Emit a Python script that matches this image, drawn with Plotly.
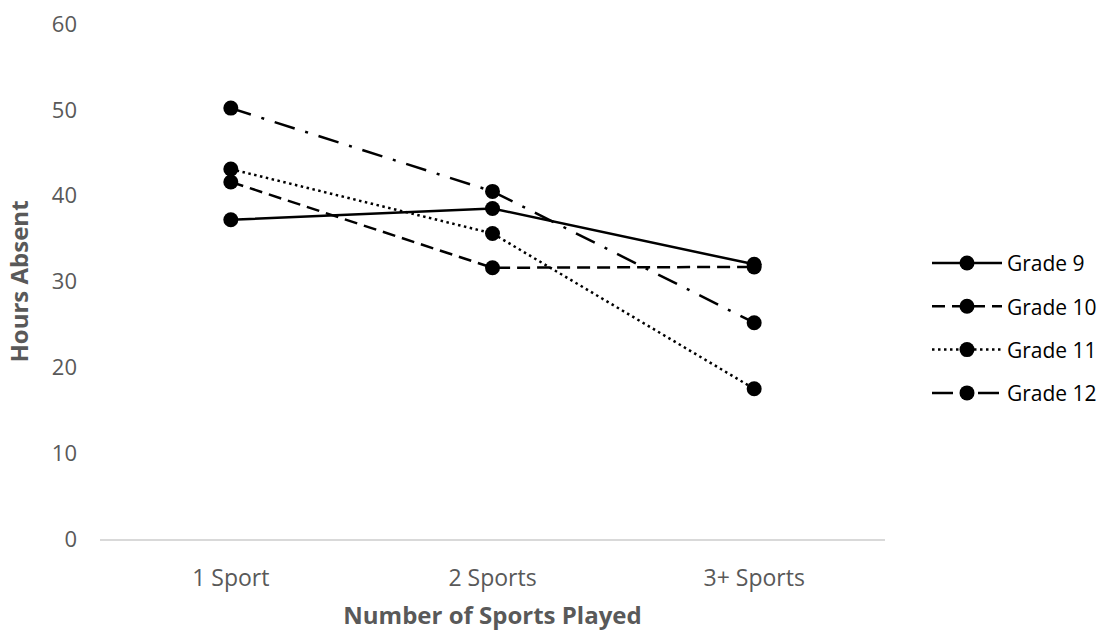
import plotly.graph_objects as go

# Hours absent by number of sports played, one line per grade
categories = ["1 Sport", "2 Sports", "3+ Sports"]
grade_9 = [37.2, 38.5, 32.0]
grade_10 = [41.6, 31.6, 31.7]
grade_11 = [43.1, 35.6, 17.5]
grade_12 = [50.2, 40.5, 25.2]

series = [
    ("Grade 9", grade_9, "solid"),
    ("Grade 10", grade_10, "13px,7px"),
    ("Grade 11", grade_11, "2.5px,3.5px"),
    ("Grade 12", grade_12, "21px,11px,3px,11px"),
]

TEXT = "#595959"
FONT = "Open Sans"

fig = go.Figure()
for name, values, dash in series:
    fig.add_trace(go.Scatter(
        x=categories, y=values, name=name, legendgroup=name,
        mode="lines+markers",
        line=dict(color="black", width=2.5, dash=dash),
        marker=dict(color="black", size=15, symbol="circle"),
    ))

fig.update_layout(
    width=1098, height=631,
    margin=dict(l=100, r=213, t=24, b=92, autoexpand=False),
    paper_bgcolor="white", plot_bgcolor="white",
    font=dict(family=FONT, color=TEXT, size=22),
    showlegend=True,
    legend=dict(
        x=1.0535, xanchor="left", y=0.409, yanchor="middle",
        font=dict(family=FONT, size=21, color="black"),
        tracegroupgap=13, itemwidth=70,
        bgcolor="rgba(0,0,0,0)",
    ),
    xaxis=dict(
        type="category", range=[-0.5, 2.5],
        showline=True, linecolor="#d9d9d9", linewidth=1.5,
        showgrid=False, zeroline=False, ticks="",
        tickfont=dict(size=23, color=TEXT, family=FONT),
        ticklabelstandoff=18,
        title=dict(text="<b>Number of Sports Played</b>",
                   font=dict(size=24, color=TEXT, family=FONT), standoff=20),
    ),
    yaxis=dict(
        range=[0, 60], dtick=10, tick0=0,
        showline=False, showgrid=False, zeroline=False, ticks="",
        tickfont=dict(size=22, color=TEXT, family=FONT),
        ticklabelstandoff=22,
        title=dict(text="<b>Hours Absent</b>",
                   font=dict(size=24, color=TEXT, family=FONT), standoff=16),
    ),
)

fig.write_html("out.html")
